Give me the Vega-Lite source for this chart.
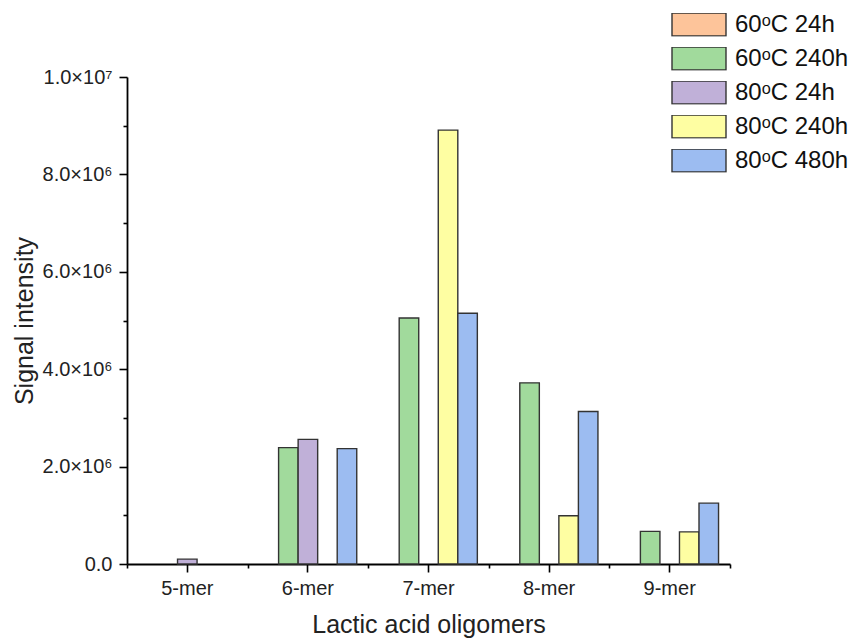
{
  "$schema": "https://vega.github.io/schema/vega-lite/v6.json",
  "autosize": "none",
  "width": 603,
  "height": 487,
  "padding": {"left": 127, "top": 77, "right": 124, "bottom": 75},
  "background": "white",
  "config": {
    "font": "Liberation Sans",
    "view": {"stroke": null},
    "axis": {"grid": false, "domainColor": "black", "domainWidth": 1.8, "tickColor": "black", "tickWidth": 1.6, "labelColor": "#222", "titleColor": "#222", "labelFont": "Liberation Sans", "titleFont": "Liberation Sans", "titleFontWeight": "normal"},
    "legend": {"labelFont": "Liberation Sans"}
  },
  "layer": [
    {
      "data": {
        "values": [
          {"mer": "5-mer", "series": "80ᵒC 24h", "value": 100000},
          {"mer": "6-mer", "series": "60ᵒC 240h", "value": 2390000},
          {"mer": "6-mer", "series": "80ᵒC 24h", "value": 2560000},
          {"mer": "6-mer", "series": "80ᵒC 480h", "value": 2370000},
          {"mer": "7-mer", "series": "60ᵒC 240h", "value": 5050000},
          {"mer": "7-mer", "series": "80ᵒC 240h", "value": 8910000},
          {"mer": "7-mer", "series": "80ᵒC 480h", "value": 5150000},
          {"mer": "8-mer", "series": "60ᵒC 240h", "value": 3720000},
          {"mer": "8-mer", "series": "80ᵒC 240h", "value": 990000},
          {"mer": "8-mer", "series": "80ᵒC 480h", "value": 3130000},
          {"mer": "9-mer", "series": "60ᵒC 240h", "value": 670000},
          {"mer": "9-mer", "series": "80ᵒC 240h", "value": 660000},
          {"mer": "9-mer", "series": "80ᵒC 480h", "value": 1250000}
        ]
      },
      "mark": {"type": "bar", "stroke": "#333", "strokeWidth": 1.4},
      "encoding": {
        "x": {
          "field": "mer", "type": "nominal",
          "scale": {"domain": ["5-mer", "6-mer", "7-mer", "8-mer", "9-mer"], "paddingInner": 0.19, "paddingOuter": 0.095},
          "axis": {"orient": "bottom", "title": "Lactic acid oligomers", "labelAngle": 0, "labelFontSize": 20, "titleFontSize": 25, "tickSize": 8, "labelPadding": 6, "titlePadding": 14}
        },
        "xOffset": {
          "field": "series", "type": "nominal",
          "scale": {"domain": ["60ᵒC 24h", "60ᵒC 240h", "80ᵒC 24h", "80ᵒC 240h", "80ᵒC 480h"], "paddingInner": 0, "paddingOuter": 0}
        },
        "y": {
          "field": "value", "type": "quantitative",
          "scale": {"domain": [0, 10000000], "nice": false},
          "axis": {
            "title": "Signal intensity",
            "titleFontSize": 25,
            "labelFontSize": 20,
            "labelPadding": 7,
            "titlePadding": 5,
            "values": [0, 1000000, 2000000, 3000000, 4000000, 5000000, 6000000, 7000000, 8000000, 9000000, 10000000],
            "labelExpr": "datum.value === 0 ? '0.0' : datum.value === 10000000 ? '1.0×10⁷' : (datum.value % 2000000 === 0 ? format(datum.value / 1000000, '.1f') + '×10⁶' : '')",
            "tickSize": {"condition": {"test": "datum.value % 2000000 === 0", "value": 8}, "value": 4}
          }
        },
        "color": {
          "field": "series", "type": "nominal",
          "scale": {
            "domain": ["60ᵒC 24h", "60ᵒC 240h", "80ᵒC 24h", "80ᵒC 240h", "80ᵒC 480h"],
            "range": ["#FDC49A", "#A1DA9C", "#C0B0D8", "#FEFEA2", "#9CBCF1"]
          },
          "legend": {
            "title": null,
            "orient": "none",
            "legendX": 544,
            "legendY": -64,
            "symbolType": "M-1,-0.426H1V0.426H-1Z",
            "symbolSize": 2916,
            "symbolStrokeColor": "#333",
            "symbolStrokeWidth": 1.4,
            "symbolOpacity": 1,
            "clipHeight": 23,
            "rowPadding": 9,
            "labelFontSize": 24,
            "labelColor": "#111",
            "labelOffset": 8,
            "labelLimit": 300
          }
        }
      }
    },
    {
      "data": {"values": [{"pos": 0.5}, {"pos": 5.5}]},
      "mark": {"type": "point", "opacity": 0},
      "encoding": {
        "x": {
          "field": "pos", "type": "quantitative",
          "scale": {"domain": [0.5, 5.5], "nice": false, "zero": false},
          "axis": {"orient": "bottom", "title": null, "labels": false, "domain": false, "values": [0.5, 1.5, 2.5, 3.5, 4.5, 5.5], "tickSize": 4}
        }
      }
    }
  ],
  "resolve": {"scale": {"x": "independent"}, "axis": {"x": "independent"}}
}
